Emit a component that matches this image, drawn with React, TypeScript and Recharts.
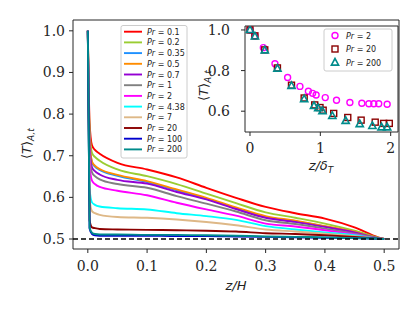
import React from 'react';
import { LineChart, Line, XAxis, YAxis, ReferenceLine, ReferenceArea, ScatterChart, Scatter } from 'recharts';

// ---------- main chart data ----------
const zGrid = [0, 0.003, 0.007, 0.012, 0.02, 0.05, 0.1, 0.15, 0.2, 0.25, 0.3, 0.35, 0.4, 0.45, 0.49, 0.5];

const prLabels = ['0.1', '0.2', '0.35', '0.5', '0.7', '1', '2', '4.38', '7', '20', '100', '200'];
const prColors = ['#ff0000', '#9acd32', '#1e90ff', '#ff8c00', '#9400d3', '#808080', '#ff00ff', '#00ffff', '#deb887', '#8b0000', '#0000cd', '#008b8b'];

const T_Pr0_1 = [1.0, 0.78, 0.725, 0.714, 0.705, 0.683, 0.667, 0.648, 0.623, 0.599, 0.577, 0.562, 0.549, 0.528, 0.504, 0.5];
const T_Pr0_2 = [1.0, 0.76, 0.707, 0.697, 0.688, 0.667, 0.651, 0.632, 0.609, 0.586, 0.564, 0.551, 0.537, 0.52, 0.503, 0.5];
const T_Pr0_35 = [1.0, 0.738, 0.684, 0.674, 0.666, 0.652, 0.637, 0.617, 0.597, 0.574, 0.553, 0.542, 0.53, 0.516, 0.502, 0.5];
const T_Pr0_5 = [1.0, 0.74, 0.686, 0.676, 0.668, 0.654, 0.639, 0.619, 0.599, 0.576, 0.555, 0.544, 0.531, 0.517, 0.502, 0.5];
const T_Pr0_7 = [1.0, 0.72, 0.672, 0.663, 0.655, 0.642, 0.633, 0.613, 0.595, 0.572, 0.551, 0.541, 0.529, 0.516, 0.502, 0.5];
const T_Pr1 = [1.0, 0.705, 0.66, 0.651, 0.643, 0.632, 0.623, 0.603, 0.585, 0.566, 0.545, 0.536, 0.525, 0.513, 0.502, 0.5];
const T_Pr2 = [1.0, 0.68, 0.64, 0.632, 0.625, 0.616, 0.605, 0.587, 0.571, 0.556, 0.537, 0.53, 0.521, 0.511, 0.501, 0.5];
const T_Pr4_38 = [1.0, 0.62, 0.588, 0.582, 0.578, 0.574, 0.571, 0.562, 0.555, 0.546, 0.531, 0.523, 0.516, 0.509, 0.501, 0.5];
const T_Pr7 = [1.0, 0.595, 0.567, 0.562, 0.558, 0.553, 0.551, 0.547, 0.541, 0.533, 0.523, 0.518, 0.513, 0.507, 0.501, 0.5];
const T_Pr20 = [1.0, 0.545, 0.528, 0.526, 0.524, 0.523, 0.522, 0.521, 0.52, 0.518, 0.514, 0.512, 0.509, 0.505, 0.501, 0.5];
const T_Pr100 = [1.0, 0.525, 0.512, 0.509, 0.508, 0.508, 0.508, 0.507, 0.507, 0.506, 0.505, 0.504, 0.503, 0.502, 0.501, 0.5];
const T_Pr200 = [1.0, 0.527, 0.515, 0.512, 0.511, 0.511, 0.51, 0.51, 0.509, 0.508, 0.506, 0.505, 0.504, 0.502, 0.501, 0.5];

const seriesValues = [T_Pr0_1, T_Pr0_2, T_Pr0_35, T_Pr0_5, T_Pr0_7, T_Pr1, T_Pr2, T_Pr4_38, T_Pr7, T_Pr20, T_Pr100, T_Pr200];

const xTicks = [0, 0.1, 0.2, 0.3, 0.4, 0.5];
const yTicks = [0.5, 0.6, 0.7, 0.8, 0.9, 1.0];

// ---------- inset data ----------
const inPr2X = [0, 0.07, 0.19, 0.355, 0.535, 0.71, 0.83, 0.89, 0.94, 1.07, 1.23, 1.42, 1.59, 1.69, 1.76, 1.83, 1.95];
const inPr2Y = [1.0, 0.97, 0.913, 0.834, 0.766, 0.722, 0.698, 0.688, 0.68, 0.667, 0.654, 0.643, 0.639, 0.637, 0.637, 0.637, 0.634];
const inPr20X = [0, 0.07, 0.21, 0.39, 0.59, 0.77, 0.92, 0.995, 1.04, 1.19, 1.39, 1.58, 1.78, 1.9, 1.98];
const inPr20Y = [1.0, 0.971, 0.902, 0.813, 0.728, 0.665, 0.631, 0.618, 0.605, 0.589, 0.569, 0.556, 0.546, 0.54, 0.54];
const inPr200X = [0, 0.07, 0.21, 0.39, 0.59, 0.77, 0.91, 0.97, 1.03, 1.17, 1.36, 1.56, 1.74, 1.87, 1.95];
const inPr200Y = [1.0, 0.968, 0.9, 0.81, 0.725, 0.66, 0.626, 0.615, 0.601, 0.577, 0.553, 0.537, 0.528, 0.521, 0.521];
const insetLabels = ['2', '20', '200'];
const insetColors = ['#ff00ff', '#8b0000', '#008b8b'];
const insetXTicks = [0, 1, 2];
const insetYTicks = [0.6, 0.8, 1.0];

const mainData = zGrid.map((z, i) => {
  const row: any = { z };
  seriesValues.forEach((s, k) => { row['s' + k] = s[i]; });
  return row;
});
const zip = (xs: number[], ys: number[]) => xs.map((x, i) => ({ x, y: ys[i] }));
const insetData = [zip(inPr2X, inPr2Y), zip(inPr20X, inPr20Y), zip(inPr200X, inPr200Y)];

const FRAME = '#262626';
const tickStyle = { fill: '#262626', fontSize: 14, fontFamily: 'DejaVu Serif' };

const CircleShape = (p: any) => <circle cx={p.cx} cy={p.cy} r={3} fill="none" stroke={insetColors[0]} strokeWidth={1.4} />;
const SquareShape = (p: any) => <rect x={p.cx - 3} y={p.cy - 3} width={6} height={6} fill="none" stroke={insetColors[1]} strokeWidth={1.4} />;
const TriShape = (p: any) => (
  <polygon points={`${p.cx},${p.cy - 4} ${p.cx - 3.6},${p.cy + 2.6} ${p.cx + 3.6},${p.cy + 2.6}`} fill="none" stroke={insetColors[2]} strokeWidth={1.6} />
);
const shapes = [CircleShape, SquareShape, TriShape];

const YLabel = ({ x, y }: { x: number; y: number }) => (
  <text transform={`translate(${x},${y}) rotate(-90)`} fontFamily="DejaVu Sans" fontSize={13} fill="#222">
    ⟨<tspan fontStyle="italic">T</tspan>⟩<tspan fontStyle="italic" fontSize={9} dy={3}>A,t</tspan>
  </text>
);

export default function App() {
  return (
    <div style={{ position: 'absolute', left: 0, top: 0, width: 415, height: 312, background: '#fff' }}>
      <LineChart width={415} height={312} data={mainData} margin={{ top: 20, right: 16, bottom: 33, left: 23 }}>
        <XAxis type="number" dataKey="z" domain={[-0.025, 0.525]} ticks={xTicks} allowDataOverflow
          tickFormatter={(v: number) => v.toFixed(1)} axisLine={false} tickLine={{ stroke: FRAME }} tickSize={4} tickMargin={8}
          tick={tickStyle} height={30} />
        <YAxis type="number" domain={[0.476, 1.026]} ticks={yTicks} allowDataOverflow
          tickFormatter={(v: number) => v.toFixed(1)} axisLine={false} tickLine={{ stroke: FRAME }} tickSize={4} tickMargin={4}
          tick={tickStyle} width={50} />
        {prLabels.map((lab, k) => (
          <Line key={lab} type="monotone" dataKey={'s' + k} stroke={prColors[k]} strokeWidth={1.9} dot={false} isAnimationActive={false} />
        ))}
        <ReferenceLine y={0.5} stroke="#000" strokeDasharray="5 3" strokeWidth={1.3} />
        <ReferenceArea x1={-0.025} x2={0.525} y1={0.476} y2={1.026} fill="none" stroke={FRAME} strokeWidth={1} ifOverflow="visible" />
      </LineChart>

      <div style={{ position: 'absolute', left: 0, top: 0 }}>
        <ScatterChart width={415} height={312} margin={{ top: 26, right: 17, bottom: 150, left: 205 }}>
          <XAxis type="number" dataKey="x" domain={[-0.071, 2.104]} ticks={insetXTicks} allowDataOverflow
            axisLine={false} tickLine={{ stroke: FRAME }} tickSize={4} tickMargin={7} tick={tickStyle} height={30} />
          <YAxis type="number" dataKey="y" domain={[0.4976, 1.0195]} ticks={insetYTicks} allowDataOverflow
            tickFormatter={(v: number) => v.toFixed(1)} axisLine={false} tickLine={{ stroke: FRAME }} tickSize={4} tickMargin={4}
            tick={{ ...tickStyle, dx: -7 }} width={40} />
          <ReferenceArea x1={-0.071} x2={2.104} y1={0.4976} y2={1.0195} fill="#fff" stroke={FRAME} strokeWidth={1} ifOverflow="visible" />
          {insetData.map((d, k) => (
            <Scatter key={insetLabels[k]} data={d} shape={shapes[k]} isAnimationActive={false} />
          ))}
        </ScatterChart>
      </div>

      <svg width={415} height={312} style={{ position: 'absolute', left: 0, top: 0 }}>
        {/* main axis labels */}
        <text x={236} y={290} textAnchor="middle" fontFamily="DejaVu Sans" fontStyle="italic" fontSize={13} fill="#222">z/H</text>
        <YLabel x={31} y={159} />
        {/* inset axis labels */}
        <text x={321} y={170} textAnchor="middle" fontFamily="DejaVu Sans" fontStyle="italic" fontSize={13} fill="#222">
          z/δ<tspan fontSize={9} dy={3}>T</tspan>
        </text>
        <YLabel x={208} y={101} />

        {/* main legend */}
        <rect x={121} y={25.5} width={66} height={132.5} rx={2} fill="#fff" fillOpacity={0.8} stroke="#cccccc" strokeWidth={1} />
        {prLabels.map((lab, k) => {
          const y = 31.7 + k * 10.7;
          return (
            <g key={lab}>
              <line x1={124} x2={142} y1={y} y2={y} stroke={prColors[k]} strokeWidth={1.9} />
              <text x={147} y={y + 3} fontFamily="DejaVu Sans" fontSize={8} fill="#222">
                <tspan fontStyle="italic">Pr</tspan> = {lab}
              </text>
            </g>
          );
        })}

        {/* inset legend */}
        <rect x={324} y={29} width={68} height={42} rx={2} fill="#fff" fillOpacity={0.8} stroke="#cccccc" strokeWidth={1} />
        {insetLabels.map((lab, k) => {
          const y = 35.5 + k * 13.5;
          const S = shapes[k];
          return (
            <g key={lab}>
              <S cx={335} cy={y} />
              <text x={346} y={y + 3} fontFamily="DejaVu Sans" fontSize={8} fill="#222">
                <tspan fontStyle="italic">Pr</tspan> = {lab}
              </text>
            </g>
          );
        })}
      </svg>
    </div>
  );
}
